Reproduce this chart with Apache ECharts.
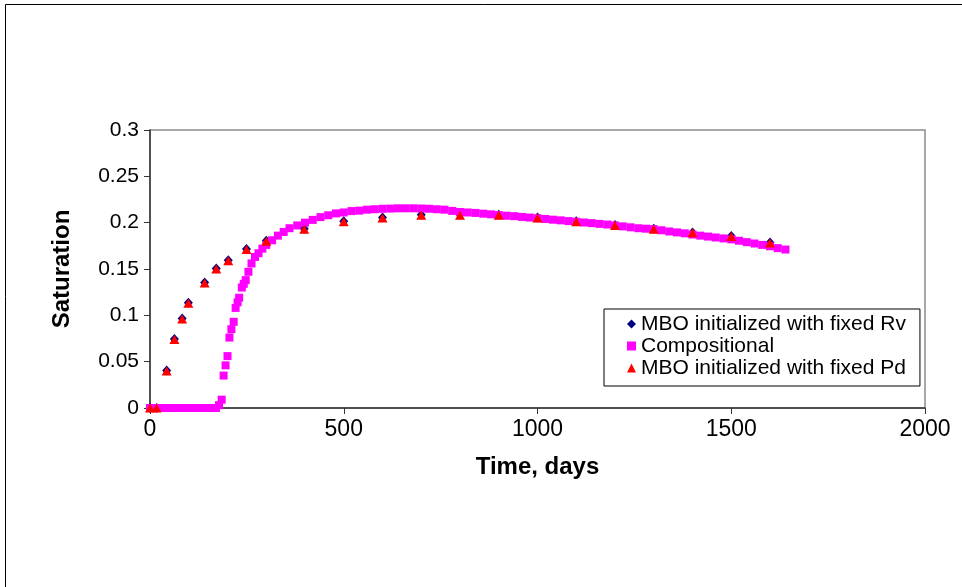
<!DOCTYPE html>
<html><head><meta charset="utf-8">
<script src="https://cdn.jsdelivr.net/npm/echarts@6/dist/echarts.min.js"></script>
<style>html,body{margin:0;padding:0;background:#fff}#c{width:962px;height:587px}</style>
</head><body><div id="c"></div>
<script>
// ---- data ----
const seriesNames = ['MBO initialized with fixed Rv', 'Compositional', 'MBO initialized with fixed Pd'];
const xAxisTitle = 'Time, days';
const yAxisTitle = 'Saturation';

const mboTime = [0, 17, 43, 63, 83, 99, 141, 171, 202, 249, 300, 398, 500, 600, 700, 800, 900, 1000, 1100, 1200, 1300, 1400, 1500, 1600];
const mboRv   = [0, 0, 0.0405, 0.0745, 0.0965, 0.1135, 0.1355, 0.1505, 0.1595, 0.1715, 0.1805, 0.1935, 0.2015, 0.2055, 0.2085, 0.2085, 0.2085, 0.2055, 0.2015, 0.1975, 0.1935, 0.1895, 0.1855, 0.1785];
const mboPd   = [0, 0, 0.040, 0.074, 0.096, 0.113, 0.135, 0.150, 0.159, 0.171, 0.180, 0.193, 0.201, 0.205, 0.208, 0.208, 0.208, 0.205, 0.201, 0.197, 0.193, 0.189, 0.185, 0.178];

const compTime = [0, 10, 20, 30, 40, 50, 60, 70, 80, 90, 100, 110, 120, 130, 140, 150, 160, 170, 178, 185, 190, 195, 200, 205, 210, 216, 221, 226, 230, 237, 242, 247, 254, 262, 271, 280, 290, 300, 315, 330, 345, 360, 380, 400, 420, 440, 460, 480, 500, 520, 540, 560, 580, 600, 620, 640, 660, 680, 700, 720, 740, 760, 780, 800, 820, 840, 860, 880, 900, 920, 940, 960, 980, 1000, 1020, 1040, 1060, 1080, 1100, 1120, 1140, 1160, 1180, 1200, 1220, 1240, 1260, 1280, 1300, 1320, 1340, 1360, 1380, 1400, 1420, 1440, 1460, 1480, 1500, 1520, 1540, 1560, 1580, 1600, 1620, 1640];
const compSat  = [0, 0, 0, 0, 0, 0, 0, 0, 0, 0, 0, 0, 0, 0, 0, 0, 0, 0, 0.003, 0.009, 0.035, 0.046, 0.056, 0.076, 0.085, 0.093, 0.108, 0.114, 0.119, 0.130, 0.134, 0.138, 0.147, 0.156, 0.163, 0.167, 0.172, 0.176, 0.181, 0.186, 0.190, 0.194, 0.197, 0.200, 0.203, 0.206, 0.208, 0.210, 0.211, 0.2125, 0.213, 0.214, 0.2145, 0.215, 0.2152, 0.2155, 0.2155, 0.2155, 0.2153, 0.215, 0.2145, 0.214, 0.2127, 0.2115, 0.211, 0.2105, 0.2097, 0.209, 0.2082, 0.2075, 0.207, 0.2062, 0.2055, 0.2048, 0.204, 0.2032, 0.2025, 0.2017, 0.201, 0.2002, 0.1995, 0.1987, 0.198, 0.197, 0.196, 0.195, 0.194, 0.1935, 0.193, 0.1918, 0.1905, 0.1895, 0.1885, 0.1872, 0.186, 0.185, 0.184, 0.183, 0.182, 0.1805, 0.179, 0.1775, 0.176, 0.1745, 0.1725, 0.171];

const xMin = 0, xMax = 2000, xStep = 500;
const yMin = 0, yMax = 0.3, yStep = 0.05;

// ---- chart ----
const pair = (xs, ys) => xs.map((x, i) => [x, ys[i]]);
const FONT = '"Liberation Sans", Arial, sans-serif';
const chart = echarts.init(document.getElementById('c'), null, {renderer: 'canvas'});
chart.setOption({
  animation: false,
  backgroundColor: '#fff',
  textStyle: {fontFamily: FONT},
  graphic: [{
    type: 'rect', silent: true, z: -10,
    shape: {x: 5.5, y: 4.5, width: 1000, height: 1000},
    style: {fill: 'none', stroke: '#000', lineWidth: 1}
  }],
  grid: {left: 150, right: 37, top: 130, bottom: 179, show: true, borderColor: '#8c8c8c', borderWidth: 1.5, backgroundColor: '#fff'},
  legend: {
    orient: 'vertical', left: 604, top: 309,
    padding: [4, 14, 7, 23], itemGap: 0,
    itemWidth: 9, itemHeight: 9,
    borderColor: '#000', borderWidth: 1, backgroundColor: '#fff',
    textStyle: {fontFamily: FONT, fontSize: 21, color: '#000', lineHeight: 22},
    data: [
      {name: seriesNames[0], icon: 'diamond'},
      {name: seriesNames[1], icon: 'rect'},
      {name: seriesNames[2], icon: 'triangle'}
    ]
  },
  xAxis: {
    type: 'value', min: xMin, max: xMax, interval: xStep,
    name: xAxisTitle, nameLocation: 'middle', nameGap: 47,
    nameTextStyle: {fontFamily: FONT, fontSize: 24, fontWeight: 'bold', color: '#000'},
    axisLine: {show: true, onZero: false, lineStyle: {color: '#333', width: 1.5}},
    axisTick: {show: true, length: 6, lineStyle: {color: '#333'}},
    axisLabel: {fontFamily: FONT, fontSize: 23, color: '#000', margin: 10,
      formatter: v => String(v)},
    splitLine: {show: false}
  },
  yAxis: {
    type: 'value', min: yMin, max: yMax, interval: yStep,
    name: yAxisTitle, nameLocation: 'middle', nameGap: 76,
    nameTextStyle: {fontFamily: FONT, fontSize: 24, fontWeight: 'bold', color: '#000'},
    axisLine: {show: true, onZero: false, lineStyle: {color: '#333', width: 1.5}},
    axisTick: {show: true, length: 6, lineStyle: {color: '#333'}},
    axisLabel: {fontFamily: FONT, fontSize: 21, color: '#000', margin: 11,
      formatter: v => String(parseFloat(v.toFixed(2)))},
    splitLine: {show: false}
  },
  series: [
    {name: seriesNames[0], type: 'scatter', symbol: 'diamond', symbolSize: [9, 10],
      itemStyle: {color: '#000080', opacity: 1}, data: pair(mboTime, mboRv), z: 2},
    {name: seriesNames[1], type: 'scatter', symbol: 'rect', symbolSize: 8,
      itemStyle: {color: '#ff00ff', opacity: 1}, data: pair(compTime, compSat), z: 3},
    {name: seriesNames[2], type: 'scatter', symbol: 'triangle', symbolSize: [10, 9],
      itemStyle: {color: '#ff0000', opacity: 1}, data: pair(mboTime, mboPd), z: 4}
  ]
});
</script>
</body></html>
